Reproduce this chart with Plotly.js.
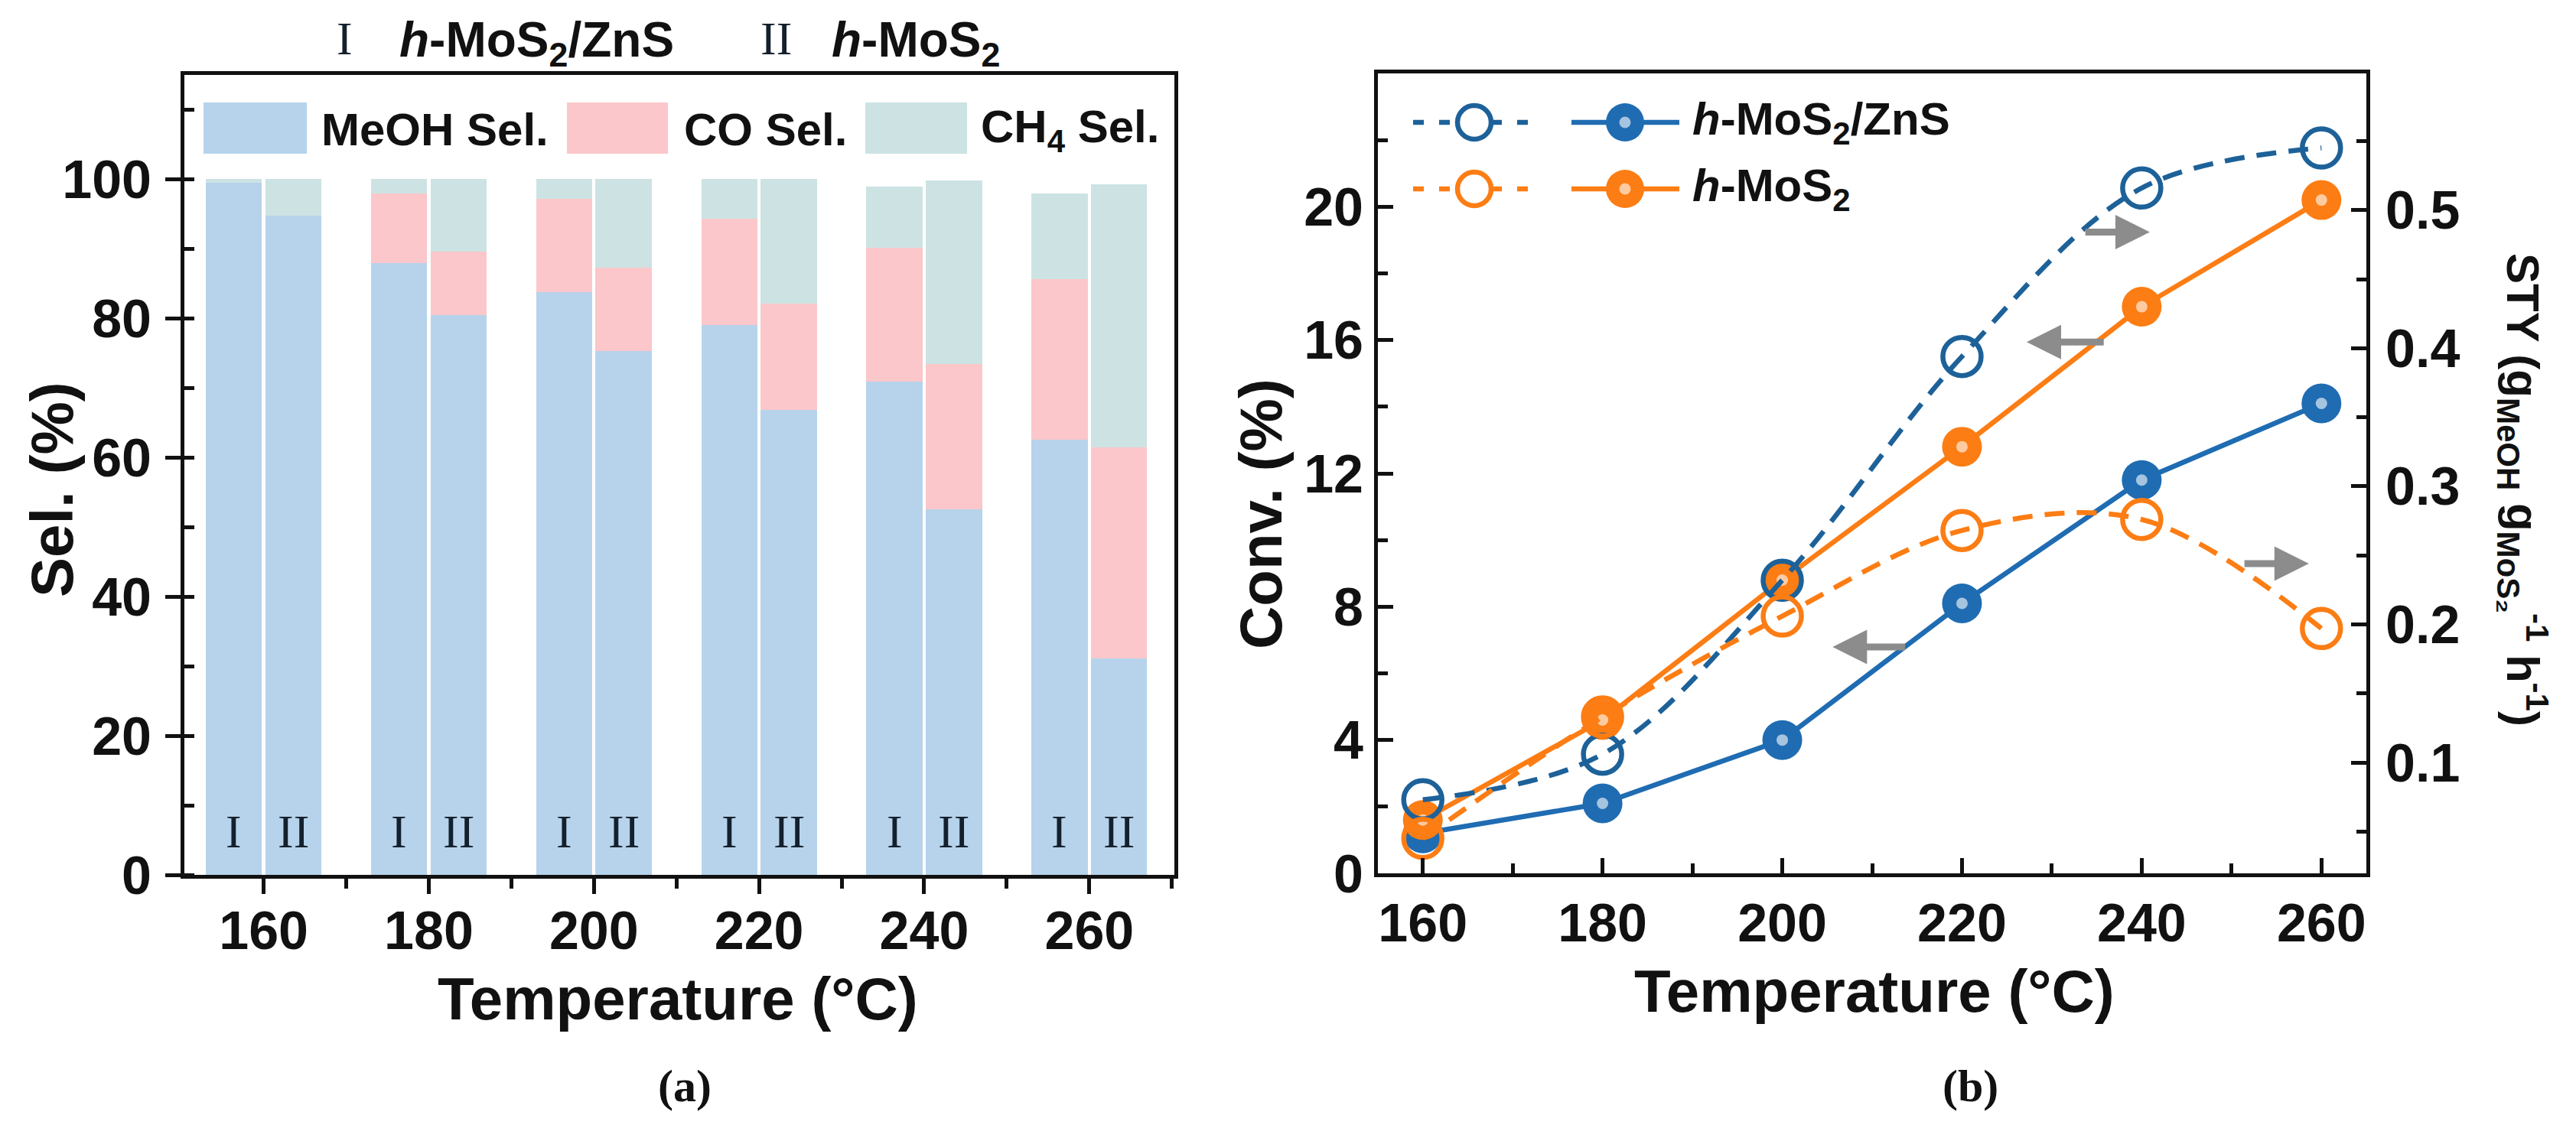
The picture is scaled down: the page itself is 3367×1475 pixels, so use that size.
<!DOCTYPE html>
<html>
<head>
<meta charset="utf-8">
<script src="https://cdn.plot.ly/plotly-3.0.1.min.js"></script>
<style>
  html, body { margin: 0; padding: 0; background: #fff; }
  #chart { width: 3367px; height: 1475px; }
</style>
</head>
<body>
<div id="chart"></div>
<script>
// ── Data ──────────────────────────────────────────────────────────────────
const temps = [160, 180, 200, 220, 240, 260];

// (a) selectivity, stacked (%) — I: h-MoS2/ZnS, II: h-MoS2
const meohI  = [99.5, 88.0, 83.8, 79.0, 70.9, 62.6];
const coI    = [0.0, 10.0, 13.4, 15.3, 19.2, 23.0];
const ch4I   = [0.5, 2.0, 2.8, 5.7, 8.9, 12.4];
const meohII = [94.8, 80.5, 75.3, 66.8, 52.5, 31.1];
const coII   = [0.0, 9.1, 12.0, 15.3, 20.9, 30.4];
const ch4II  = [5.2, 10.4, 12.7, 17.9, 26.4, 37.8];

// (b) conversion (%) and STY
const convZnS = [1.2, 2.1, 4.0, 8.1, 11.8, 14.1];
const convMoS2 = [1.6, 4.6, 8.8, 12.8, 17.0, 20.2];
const styZnS = [0.073, 0.106, 0.232, 0.394, 0.516, 0.545];
const styMoS2 = [0.045, 0.133, 0.206, 0.268, 0.276, 0.197];

// ── Styles ────────────────────────────────────────────────────────────────
const W = 3367, H = 1475;
const SANS = 'Liberation Sans, Arial, sans-serif';
const SERIF = 'Liberation Serif, Times New Roman, serif';
const INK = '#111111';
const C_MEOH = '#b6d3eb', C_CO = '#fbc7ca', C_CH4 = '#cde3e3';
const BLUE = '#1f6cb2', BLUE_D = '#1d6199', ORANGE = '#fc7d14';
const GREY = '#8c8c8c';
const DASH = '26px,16px';

const px = v => v / W;            // pixel → paper x
const py = v => (H - v) / H;      // pixel (from top) → paper y

const BAR_OFF = 3.6, BAR_W = 6.8;
const xI = temps.map(t => t - BAR_OFF);
const xII = temps.map(t => t + BAR_OFF);

function bar(x, y, color) {
  return { type: 'bar', x, y, width: BAR_W, marker: { color, line: { width: 0 } },
           xaxis: 'x', yaxis: 'y', hoverinfo: 'y' };
}

function line(y, color, axis, dashed) {
  return {
    type: 'scatter', mode: 'lines+markers', x: temps, y,
    xaxis: 'x2', yaxis: axis,
    line: { color, width: 6.5, dash: dashed ? DASH : 'solid', shape: dashed ? 'spline' : 'linear' },
    marker: dashed
      ? { symbol: 'circle-open', size: 50, color, line: { width: 6.5, color } }
      : { symbol: 'circle', size: 52, color },
  };
}

function glint(y, axis) {
  return { type: 'scatter', mode: 'markers', x: temps, y, xaxis: 'x2', yaxis: axis,
           marker: { size: 15, color: 'rgba(255,255,255,0.6)' }, hoverinfo: 'skip' };
}

const data = [
  bar(xI, meohI, C_MEOH), bar(xII, meohII, C_MEOH),
  bar(xI, coI, C_CO), bar(xII, coII, C_CO),
  bar(xI, ch4I, C_CH4), bar(xII, ch4II, C_CH4),
  line(styZnS, BLUE_D, 'y3', true),
  line(convZnS, BLUE, 'y2', false), glint(convZnS, 'y2'),
  line(styMoS2, ORANGE, 'y3', true),
  line(convMoS2, ORANGE, 'y2', false), glint(convMoS2, 'y2'),
];

// ── Axes ──────────────────────────────────────────────────────────────────
const tickFont = { family: SANS, size: 70, color: INK, weight: 'bold' };
const titleFont = { family: SANS, size: 78, color: INK, weight: 'bold' };
function axis(extra) {
  return Object.assign({
    showgrid: false, zeroline: false, showline: true, linecolor: INK, linewidth: 5,
    ticklen: 20, tickwidth: 5, tickcolor: INK, tickfont: tickFont, fixedrange: true,
  }, extra);
}
const minorTicks = (dtick, tick0, dir) =>
  ({ dtick, tick0, ticks: dir, ticklen: 13, tickwidth: 5, tickcolor: INK });

const layout = {
  width: W, height: H,
  margin: { l: 0, r: 0, t: 0, b: 0 },
  paper_bgcolor: '#fff', plot_bgcolor: 'rgba(0,0,0,0)',
  showlegend: false, barmode: 'stack',
  font: { family: SANS, color: INK },
  xaxis: axis({
    domain: [px(241), px(1535)], range: [150.4, 270.3], anchor: 'y',
    tickvals: temps, ticks: 'outside', mirror: true, ticklabelstandoff: -12,
    minor: minorTicks(10, 150, 'outside'),
  }),
  yaxis: axis({
    domain: [py(1144), py(98)], range: [0, 115], anchor: 'x',
    tickvals: [0, 20, 40, 60, 80, 100], ticks: 'outside', mirror: true, ticklabelstandoff: 4,
    minor: minorTicks(10, 0, 'inside'),
  }),
  xaxis2: axis({
    domain: [px(1801), px(3093)], range: [155, 265], anchor: 'y2',
    tickvals: temps, ticks: 'inside', mirror: true, ticklabelstandoff: 0,
    minor: minorTicks(10, 150, 'inside'),
  }),
  yaxis2: axis({
    domain: [py(1142), py(96)], range: [0, 24], anchor: 'x2',
    tickvals: [0, 4, 8, 12, 16, 20], ticks: 'inside', ticklabelstandoff: 0,
    minor: minorTicks(2, 0, 'inside'),
  }),
  yaxis3: axis({
    overlaying: 'y2', side: 'right', anchor: 'x2', range: [0.0197, 0.599],
    tickvals: [0.1, 0.2, 0.3, 0.4, 0.5], ticks: 'inside', ticklabelstandoff: 6,
    minor: minorTicks(0.05, 0, 'inside'),
  }),
  shapes: [],
  annotations: [],
};

// paper-positioned text helper (pixel coords from top-left)
function note(xPix, yPix, text, font, extra) {
  return Object.assign({ xref: 'paper', yref: 'paper', x: px(xPix), y: py(yPix), text, font,
                         showarrow: false, xanchor: 'center', yanchor: 'middle' }, extra || {});
}

// ── Axis titles ───────────────────────────────────────────────────────────
layout.annotations.push(
  note(886, 1306, 'Temperature (°C)', titleFont),
  note(2450, 1296, 'Temperature (°C)', titleFont),
  note(68, 640, 'Sel. (%)', titleFont, { textangle: -90 }),
  note(1648, 672, 'Conv. (%)', titleFont, { textangle: -90 }),
  note(3298, 640, 'STY (g<sub>MeOH</sub> g<sub>MoS₂</sub><sup>-1</sup> h<sup>-1</sup>)',
       Object.assign({}, titleFont, { size: 60 }), { textangle: 90 }),
);

// ── Panel (a): header, legend, bar labels ─────────────────────────────────
const headFont = { family: SANS, size: 64, color: INK, weight: 'bold' };
const romanFont = { family: SERIF, size: 62, color: '#14202c' };
layout.annotations.push(
  note(450, 50, 'I', romanFont),
  note(520, 56, '<i>h</i>-MoS<sub>2</sub>/ZnS', headFont, { xanchor: 'left' }),
  note(1014, 50, 'II', romanFont),
  note(1085, 56, '<i>h</i>-MoS<sub>2</sub>', headFont, { xanchor: 'left' }),
);

const legFont = { family: SANS, size: 60, color: INK, weight: 'bold' };
[[266, 401, 418, C_MEOH, 'MeOH Sel.'], [741, 873, 892, C_CO, 'CO Sel.'],
 [1131, 1264, 1280, C_CH4, 'CH<sub>4</sub> Sel.']].forEach(([a, b, t, c, label]) => {
  layout.shapes.push({ type: 'rect', xref: 'paper', yref: 'paper', x0: px(a), x1: px(b),
                       y0: py(201), y1: py(134), fillcolor: c, line: { width: 0 } });
  layout.annotations.push(note(t, 170, label, legFont, { xanchor: 'left' }));
});

temps.forEach((t, i) => {
  layout.annotations.push(
    { xref: 'x', yref: 'y', x: xI[i], y: 6.3, text: 'I', showarrow: false, font: romanFont },
    { xref: 'x', yref: 'y', x: xII[i], y: 6.3, text: 'II', showarrow: false, font: romanFont },
  );
});

// ── Panel (b): legend, arrows ─────────────────────────────────────────────
function legendRow(yPix, color, dashColor, label) {
  const yc = py(yPix);
  const dot = (xPix, r, fill, ln) => ({
    type: 'circle', xref: 'paper', yref: 'paper', xsizemode: 'pixel', ysizemode: 'pixel',
    xanchor: px(xPix), yanchor: yc, x0: -r, x1: r, y0: -r, y1: r, fillcolor: fill, line: ln,
  });
  layout.shapes.push(
    { type: 'line', xref: 'paper', yref: 'paper', x0: px(1847), x1: px(2006), y0: yc, y1: yc,
      line: { color: dashColor, width: 6.5, dash: '14px,20px' } },
    dot(1927, 22, '#fff', { color: dashColor, width: 6.5 }),
    { type: 'line', xref: 'paper', yref: 'paper', x0: px(2054), x1: px(2195), y0: yc, y1: yc,
      line: { color, width: 6.5 } },
    dot(2124, 25, color, { width: 0 }),
    dot(2124, 7.5, 'rgba(255,255,255,0.6)', { width: 0 }),
  );
  layout.annotations.push(note(2210, yPix, label, legFont, { xanchor: 'left' }));
}
legendRow(160, BLUE, BLUE_D, '<i>h</i>-MoS<sub>2</sub>/ZnS');
legendRow(247, ORANGE, ORANGE, '<i>h</i>-MoS<sub>2</sub>');

const arrow = (x0, x1, y) => ({
  xref: 'x2', yref: 'y2', axref: 'x2', ayref: 'y2', x: x1, y, ax: x0, ay: y,
  text: '', showarrow: true, arrowhead: 2, arrowsize: 1, arrowwidth: 9, arrowcolor: GREY,
});
layout.annotations.push(
  arrow(233.6, 240.9, 19.24),
  arrow(235.9, 227.2, 15.94),
  arrow(213.8, 205.6, 6.79),
  arrow(251.3, 258.6, 9.29),
);

// panel tags
const tagFont = { family: SERIF, size: 60, color: INK, weight: 'bold' };
layout.annotations.push(
  note(895, 1420, '(a)', tagFont),
  note(2575, 1420, '(b)', tagFont),
);

Plotly.newPlot('chart', data, layout, { displayModeBar: false, staticPlot: true });
</script>
</body>
</html>
